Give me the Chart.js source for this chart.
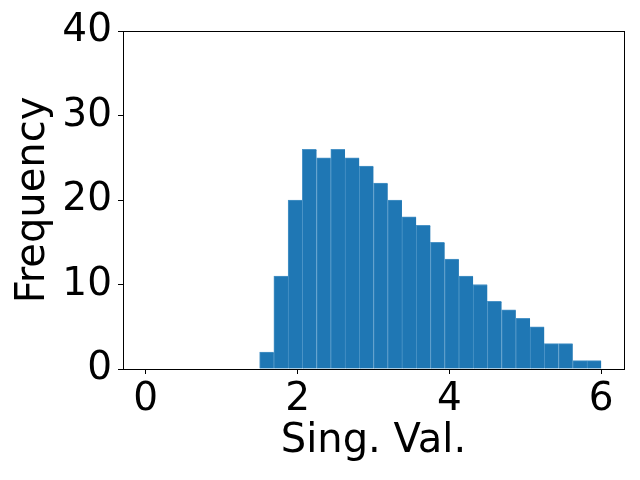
<!DOCTYPE html>
<html>
<head>
<meta charset="utf-8">
<script src="https://cdn.jsdelivr.net/npm/chart.js@4"></script>
<style>
  html, body { margin: 0; padding: 0; background: #fff; }
  #wrap { width: 640px; height: 480px; }
</style>
</head>
<body>
<div id="wrap"><canvas id="grafica" width="640" height="480"></canvas></div>
<script>
// ==============================
// Datos (histograma, 32 bins de 0 a 6)
// ==============================
const binStart = 0;
const binWidth = 0.1875;
const counts = [
  0, 0, 0, 0, 0, 0, 0, 0,
  2, 11, 20, 26, 25, 26, 25, 24,
  22, 20, 18, 17, 15, 13, 11, 10,
  8, 7, 6, 5, 3, 3, 1, 1
];
const xTicks = [0, 2, 4, 6];
const yTicks = [0, 10, 20, 30, 40];

// bins vacios no se dibujan
const puntos = counts.map((c, i) => ({ x: binStart + binWidth * (i + 0.5), y: c > 0 ? c : null }));

// ==============================
// Marco (spines)
// ==============================
const marco = {
  id: "marco",
  afterDatasetsDraw(chart) {
    const a = chart.chartArea;
    const ctx = chart.ctx;
    ctx.save();
    ctx.strokeStyle = "#000";
    ctx.lineWidth = 1;
    ctx.strokeRect(Math.round(a.left) + 0.5, Math.round(a.top) + 0.5,
      Math.round(a.right - a.left), Math.round(a.bottom - a.top));
    ctx.restore();
  }
};

const fuente = { family: "DejaVu Sans", size: 39 };
const fuenteTitulo = { family: "DejaVu Sans", size: 40 };

// ==============================
// Gráfica
// ==============================
const ctx = document.getElementById("grafica").getContext("2d");
new Chart(ctx, {
  type: "bar",
  data: {
    datasets: [{
      data: puntos,
      backgroundColor: "#1f77b4",
      borderColor: "#4a93c6",
      borderWidth: { top: 1, left: 1, right: 0, bottom: 0 },
      borderSkipped: false,
      barPercentage: 1,
      categoryPercentage: 1
    }]
  },
  options: {
    responsive: false,
    animation: false,
    layout: { padding: { top: 31, right: 16, left: 0, bottom: 0 } },
    plugins: { legend: { display: false }, tooltip: { enabled: false } },
    scales: {
      x: {
        type: "linear",
        offset: false,
        min: -0.3,
        max: 6.3,
        afterBuildTicks: s => { s.ticks = xTicks.map(v => ({ value: v })); },
        afterFit: s => { s.height = 111; },
        grid: { display: true, offset: false, drawOnChartArea: false, drawTicks: true, tickLength: 5, color: "#000" },
        border: { display: false },
        ticks: { color: "#000", font: fuente, padding: 2, maxRotation: 0 },
        title: { display: true, text: "Sing. Val.", color: "#000", font: fuenteTitulo, padding: { top: 0, bottom: 14 } }
      },
      y: {
        min: 0,
        max: 40,
        afterBuildTicks: s => { s.ticks = yTicks.map(v => ({ value: v })); },
        afterFit: s => { s.width = 123; },
        grid: { display: true, drawOnChartArea: false, drawTicks: true, tickLength: 5, color: "#000" },
        border: { display: false },
        ticks: { color: "#000", font: fuente, padding: 6 },
        title: { display: true, text: "Frequency", color: "#000", font: fuenteTitulo, padding: { top: 10, bottom: 0 } }
      }
    }
  },
  plugins: [marco]
});
</script>
</body>
</html>
